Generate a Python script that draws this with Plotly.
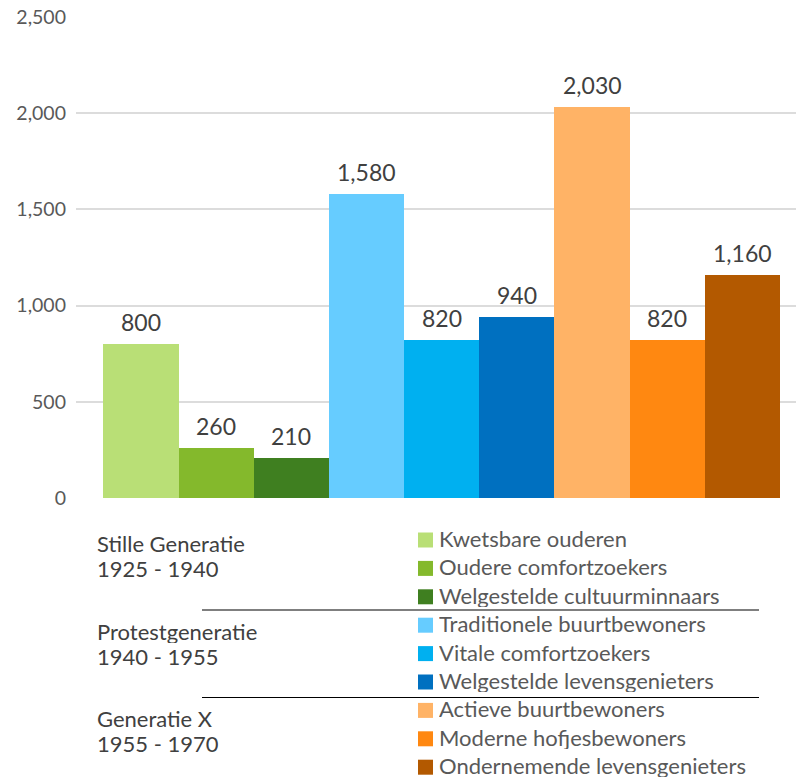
import plotly.graph_objects as go

# ---- data ----
segments = ["Kwetsbare ouderen", "Oudere comfortzoekers", "Welgestelde cultuurminnaars",
            "Traditionele buurtbewoners", "Vitale comfortzoekers", "Welgestelde levensgenieters",
            "Actieve buurtbewoners", "Moderne hofjesbewoners", "Ondernemende levensgenieters"]
values = [800, 260, 210, 1580, 820, 940, 2030, 820, 1160]
colors = ["#B9DF76", "#84B92C", "#3F7F20",
          "#66CCFF", "#00B0F0", "#0070C0",
          "#FFB366", "#FF8811", "#B35900"]
generations = ["Stille Generatie", "Protestgeneratie", "Generatie X"]
gen_years = ["1925 - 1940", "1940 - 1955", "1955 - 1970"]
ytick_vals = [0, 500, 1000, 1500, 2000, 2500]
ytick_text = ["0", "500", "1,000", "1,500", "2,000", "2,500"]

W, H = 796, 778
L, R, T, B = 76, 0, 17, 280
PW, PH = W - L - R, H - T - B

def px(x):
    return (x - L) / PW

def py(y):
    return (H - B - y) / PH

FONT = "Lato, 'Open Sans', sans-serif"
TXT = 22
xpos = list(range(len(values)))

fig = go.Figure()
fig.add_trace(go.Bar(
    x=xpos, y=values, width=1.0,
    marker=dict(color=colors, line=dict(width=0)),
    showlegend=False, hoverinfo="skip",
))

annotations = []
for xi, v in zip(xpos, values):
    annotations.append(dict(
        x=xi, y=v, xref="x", yref="y", text=f"{v:,}", showarrow=False,
        yanchor="bottom", yshift=6,
        font=dict(family=FONT, size=23, color="#404040"),
    ))

shapes = []
# legend entries
row0 = 540
row_step = 28.4
for i, (name, col) in enumerate(zip(segments, colors)):
    cy = row0 + i * row_step
    shapes.append(dict(type="rect", xref="paper", yref="paper",
                       x0=px(418), x1=px(433), y0=py(cy + 7.5), y1=py(cy - 7.5),
                       fillcolor=col, line=dict(width=0)))
    annotations.append(dict(
        x=px(437), y=py(cy - 2), xref="paper", yref="paper", text=name,
        showarrow=False, xanchor="left", yanchor="middle", height=24,
        font=dict(family=FONT, size=TXT, color="#595959"),
    ))

# generation labels (two lines each)
gen_centers = [545, 633, 720]
for g, yrs, cy in zip(generations, gen_years, gen_centers):
    for k, line in enumerate([g, yrs]):
        annotations.append(dict(
            x=px(95), y=py(cy - 2 + k * 24.5), xref="paper", yref="paper",
            text=line, showarrow=False, xanchor="left", yanchor="middle", height=24,
            font=dict(family=FONT, size=TXT, color="#404040"),
        ))

# separator lines
for ly in [610, 697.5]:
    shapes.append(dict(type="line", xref="paper", yref="paper",
                       x0=px(202), x1=px(759), y0=py(ly), y1=py(ly),
                       line=dict(color="#000000", width=1.2)))

fig.update_layout(
    width=W, height=H,
    margin=dict(l=L, r=R, t=T, b=B, pad=0),
    paper_bgcolor="white", plot_bgcolor="white",
    bargap=0,
    xaxis=dict(range=[-0.864, 8.713], showticklabels=False, showgrid=False,
               zeroline=False, showline=False, ticks=""),
    yaxis=dict(range=[0, 2500], tickvals=ytick_vals, ticktext=ytick_text,
               showgrid=True, gridcolor="#DCDCDC", gridwidth=2,
               zeroline=False, showline=False, ticks="", ticklabelstandoff=9,
               tickfont=dict(family=FONT, size=19.5, color="#595959")),
    annotations=annotations,
    shapes=shapes,
)

fig.write_html("out.html")
